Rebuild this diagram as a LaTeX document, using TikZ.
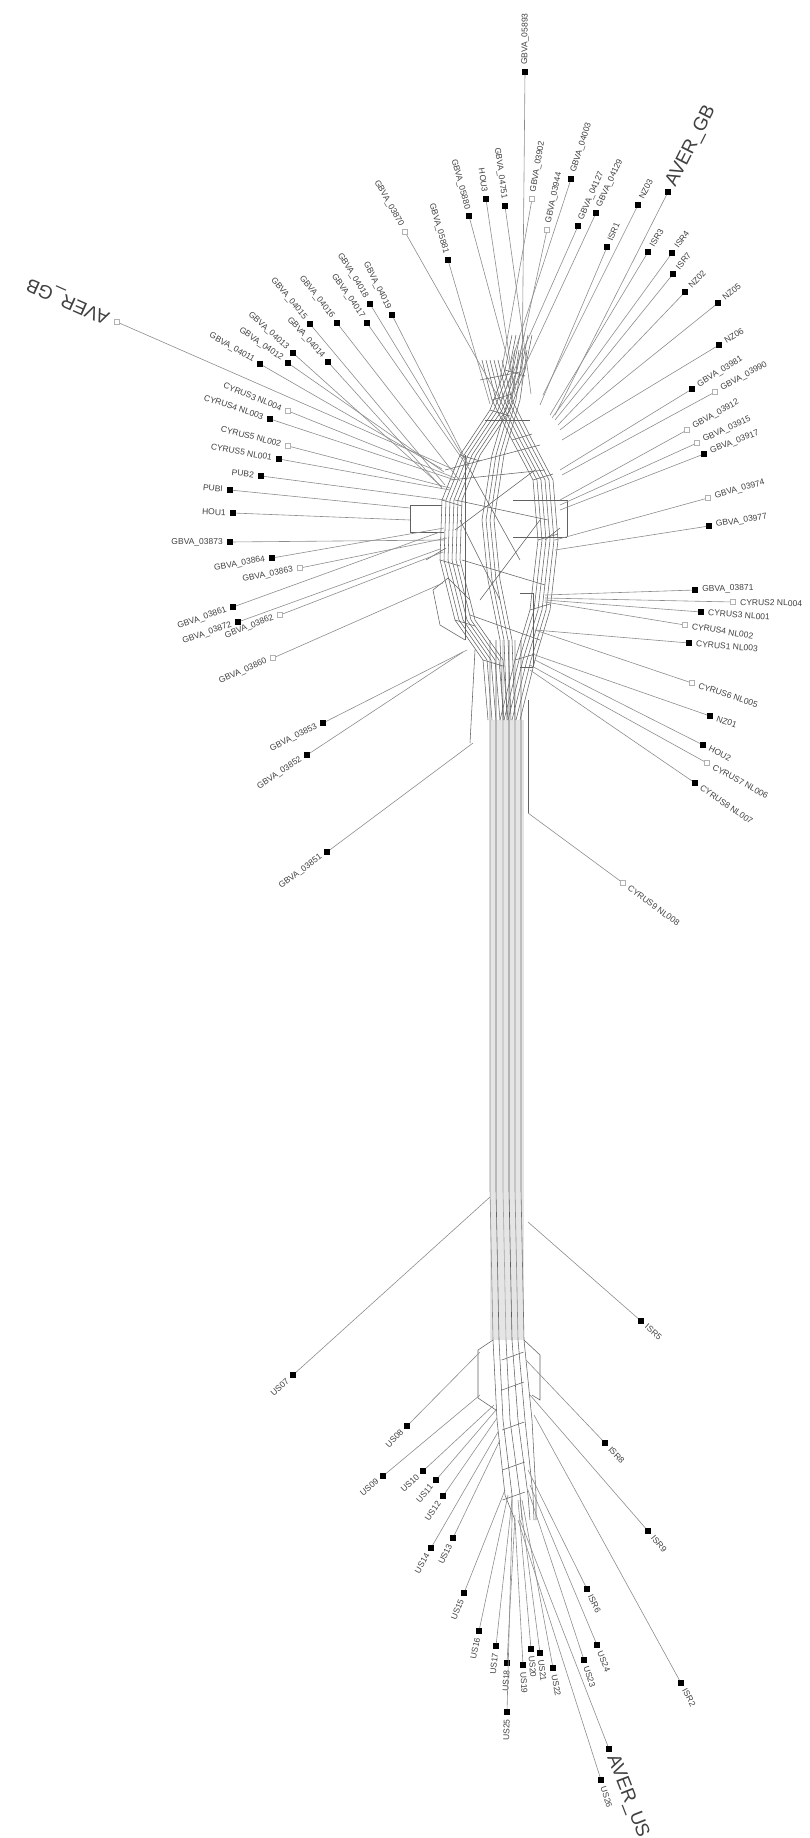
\documentclass[tikz,border=0pt]{standalone}
\usepackage{fontspec}
\setsansfont{Liberation Sans}
\usetikzlibrary{calc}

\begin{document}
\begin{tikzpicture}[x=1pt, y=-1pt, font=\sffamily\fontsize{8.5}{8.5}\selectfont,
  edge/.style={draw=black!45, line width=0.6pt},
  net/.style={draw=black!62, line width=0.55pt},
  tip/.style={rectangle, inner sep=0pt, minimum size=5.5pt, fill=black},
  opentip/.style={rectangle, inner sep=0pt, minimum size=5pt, draw=black!30, fill=white, line width=0.8pt},
  lbl/.style={inner sep=0pt, text=black!75},
  big/.style={lbl, font=\sffamily\fontsize{19}{19}\selectfont}]
\useasboundingbox (0,0) rectangle (809,1838);
% trunk
\fill[black!10] (490,720) rectangle (524,1340);
\foreach \x/\c in {490/45,496/60,503/35,509/65,515/45,521/55}{
  \draw[draw=black!\c, line width=0.6pt] (\x,640) -- (\x,1190) -- (\x+3,1340);
}
% bottom fan
\foreach \a/\b/\c/\d in {493/497/505/515, 499/503/512/512, 506/510/520/522, 512/518/528/530, 518/525/533/534, 524/532/536/536}{
  \draw[net] (\a,1340) -- (\b,1420) -- (\c,1495) -- (\d,1520);
}
\foreach \y in {1360,1390,1430,1470,1500}{
  \draw[net] (495+\y/200,\y) -- (520+\y/100-10,\y-8);
}
\draw[net] (493,1340) -- (478,1350) -- (478,1398) -- (496,1410);
\draw[net] (524,1340) -- (540,1355) -- (540,1400) -- (532,1395);
% upper braid
\foreach \k in {0,...,5}{
  \draw[net] (488+4*\k,720) -- (483+4*\k,660) -- (455+4*\k,620) -- (440+4*\k,560) -- (442+4*\k,500) -- (460+4*\k,455) -- (490+4*\k,410) -- (505+4*\k,370) -- (512+4*\k,335);
  \draw[net] (500+4*\k,720) -- (515+4*\k,660) -- (530+4*\k,610) -- (538+4*\k,540) -- (533+4*\k,480) -- (512+4*\k,440) -- (492+4*\k,400) -- (482+4*\k,360);
}
\foreach \k in {0,...,3}{
  \draw[net] (503+4*\k,720) -- (500+4*\k,640) -- (488+4*\k,580) -- (482+4*\k,520) -- (492+4*\k,455) -- (508+4*\k,400) -- (515+4*\k,350);
}
\foreach \x/\y in {483/660, 455/620, 440/560, 442/500, 460/455, 490/410, 505/370}{
  \draw[net] (\x,\y) -- (\x+20,\y+6);
}
\foreach \x/\y in {515/660, 530/610, 538/540, 533/480, 512/440, 492/400}{
  \draw[net] (\x,\y) -- (\x+20,\y-6);
}
\foreach \a/\b/\c/\d in {410/505/442/505, 410/532/444/532, 410/505/410/532,
  433/590/448/578, 433/590/440/625, 440/625/465/640, 448/578/470/600, 426/560/446/548,
  513/500/567/500, 513/537/567/537, 567/500/567/537, 520/593/533/593, 520/667/533/667,
  533/593/533/667, 545/540/560/528, 445/470/540/445, 450/480/545/470, 455/500/548/520,
  462/560/545/585, 470/615/540/640, 485/420/530/420, 480/380/520/372, 475/650/470/743,
  528/700/528/813, 465/455/465/640, 470/470/520/560, 455/530/535/470, 480/600/540/520,
  460/520/500/600}{
  \draw[net] (\a,\b) -- (\c,\d);
}
% leaves
\foreach \i/\hx/\hy/\dx/\dy/\s/\l/\lab in {
  1/522/385/525/72/tip/lbl/GBVA\_05893, 65/500/400/405/232/opentip/lbl/GBVA\_03870,
  2/490/404/448/260/tip/lbl/GBVA\_05881, 3/516/390/469/216/tip/lbl/GBVA\_05880,
  4/515/395/486/199/tip/lbl/HOU3, 5/531/394/505/206/tip/lbl/GBVA\_04751,
  6/499/385/532/199/opentip/lbl/GBVA\_03902, 7/511/396/547/230/opentip/lbl/GBVA\_03944,
  8/509/369/571/179/tip/lbl/GBVA\_04003, 9/501/400/578/226/tip/lbl/GBVA\_04127,
  10/516/385/596/213/tip/lbl/GBVA\_04129, 11/540/405/607/247/tip/lbl/ISR1,
  12/543/395/638/205/tip/lbl/NZ03, 13/555/415/668/192/tip/big/AVER\_GB,
  14/550/415/648/252/tip/lbl/ISR3, 15/552/418/672/253/tip/lbl/ISR4,
  16/555/420/673/274/tip/lbl/ISR7, 17/558/425/685/292/tip/lbl/NZ02,
  18/560/430/718/303/tip/lbl/NZ05, 19/562/440/719/345/tip/lbl/NZ06,
  20/560/470/692/389/tip/lbl/GBVA\_03981, 21/562/475/715/392/opentip/lbl/GBVA\_03990,
  22/560/500/687/430/opentip/lbl/GBVA\_03912, 23/560/505/697/443/opentip/lbl/GBVA\_03915,
  24/560/510/704/454/tip/lbl/GBVA\_03917, 25/555/540/708/498/opentip/lbl/GBVA\_03974,
  26/555/550/709/526/tip/lbl/GBVA\_03977, 27/545/595/695/590/tip/lbl/GBVA\_03871,
  28/545/598/733/602/opentip/lbl/CYRUS2 NL004, 29/545/600/701/612/tip/lbl/CYRUS3 NL001,
  30/545/602/685/625/opentip/lbl/CYRUS4 NL002, 31/535/630/689/643/tip/lbl/CYRUS1 NL003,
  32/535/630/692/683/opentip/lbl/CYRUS6 NL005, 33/535/655/710/716/tip/lbl/NZ01,
  34/535/660/703/745/tip/lbl/HOU2, 35/530/665/707/763/opentip/lbl/CYRUS7 NL006,
  36/530/670/695/783/tip/lbl/CYRUS8 NL007, 37/528/813/623/883/opentip/lbl/CYRUS9 NL008,
  38/473/743/327/852/tip/lbl/GBVA\_03851, 39/463/652/307/755/tip/lbl/GBVA\_03852,
  40/467/650/323/723/tip/lbl/GBVA\_03853, 41/443/583/273/658/opentip/lbl/GBVA\_03860,
  42/440/549/238/622/tip/lbl/GBVA\_03872, 43/440/532/233/607/tip/lbl/GBVA\_03861,
  44/443/552/280/615/opentip/lbl/GBVA\_03862, 45/447/538/300/568/opentip/lbl/GBVA\_03863,
  46/444/528/272/558/tip/lbl/GBVA\_03864, 47/445/540/230/542/tip/lbl/GBVA\_03873,
  48/410/520/233/513/tip/lbl/HOU1, 49/410/508/230/490/tip/lbl/PUBI,
  50/445/500/261/476/tip/lbl/PUB2, 51/450/490/279/459/tip/lbl/CYRUS5 NL001,
  52/450/488/288/446/opentip/lbl/CYRUS5 NL002, 53/455/480/270/419/tip/lbl/CYRUS4 NL003,
  54/455/478/288/411/opentip/lbl/CYRUS3 NL004, 55/442/469/260/364/tip/lbl/GBVA\_04011,
  56/444/472/288/363/tip/lbl/GBVA\_04012, 57/442/487/293/353/tip/lbl/GBVA\_04013,
  58/442/488/328/362/tip/lbl/GBVA\_04014, 59/445/485/310/324/tip/lbl/GBVA\_04015,
  60/460/481/337/323/tip/lbl/GBVA\_04016, 61/470/470/367/323/tip/lbl/GBVA\_04017,
  62/468/465/370/304/tip/lbl/GBVA\_04018, 63/469/466/392/315/tip/lbl/GBVA\_04019,
  66/528/1222/641/1321/tip/lbl/ISR5, 67/490/1197/293/1375/tip/lbl/US07,
  68/480/1352/407/1426/tip/lbl/US08, 69/480/1395/383/1476/tip/lbl/US09,
  70/494/1405/423/1471/tip/lbl/US10, 71/496/1410/436/1480/tip/lbl/US11,
  72/497/1418/443/1496/tip/lbl/US12, 73/500/1440/453/1538/tip/lbl/US13,
  74/498/1432/431/1548/tip/lbl/US14, 75/505/1490/464/1593/tip/lbl/US15,
  76/508/1495/479/1631/tip/lbl/US16, 77/512/1500/496/1646/tip/lbl/US17,
  78/515/1515/507/1663/tip/lbl/US18, 79/515/1520/523/1665/tip/lbl/US19,
  80/518/1500/531/1649/tip/lbl/US20, 81/520/1500/540/1653/tip/lbl/US21,
  82/522/1500/553/1668/tip/lbl/US22, 83/528/1490/584/1660/tip/lbl/US23,
  84/530/1485/597/1645/tip/lbl/US24, 85/528/1470/587/1589/tip/lbl/ISR6,
  86/526/1360/605/1443/tip/lbl/ISR8, 87/530/1395/648/1531/tip/lbl/ISR9,
  88/512/1520/507/1712/tip/lbl/US25, 89/520/1520/609/1749/tip/big/AVER\_US,
  90/518/1520/601/1780/tip/lbl/US26, 91/534/1415/681/1683/tip/lbl/ISR2}{
  \coordinate (h\i) at (\hx,\hy);
  \node[\s] (d\i) at (\dx,\dy) {};
  \draw[edge] (h\i) -- (d\i);
  \pgfmathsetmacro\ang{atan2(\hy-\dy,\dx-\hx)}
  \pgfmathtruncatemacro\flip{abs(\ang)>90}
  \ifnum\flip=1
    \pgfmathsetmacro\rot{\ang+180}
    \node[\l, anchor=east, rotate=\rot] (n\i) at ($(d\i)!-7pt!(h\i)$) {\lab};
  \else
    \node[\l, anchor=west, rotate=\ang] (n\i) at ($(d\i)!-7pt!(h\i)$) {\lab};
  \fi
}
\coordinate (h64) at (455,470);
\node[opentip] (d64) at (117,322) {};
\draw[edge] (h64) -- (d64);
\node[big, anchor=west, rotate=156] (n64) at ($(d64)!-9pt!(h64)$) {AVER\_GB};
\end{tikzpicture}
\end{document}
